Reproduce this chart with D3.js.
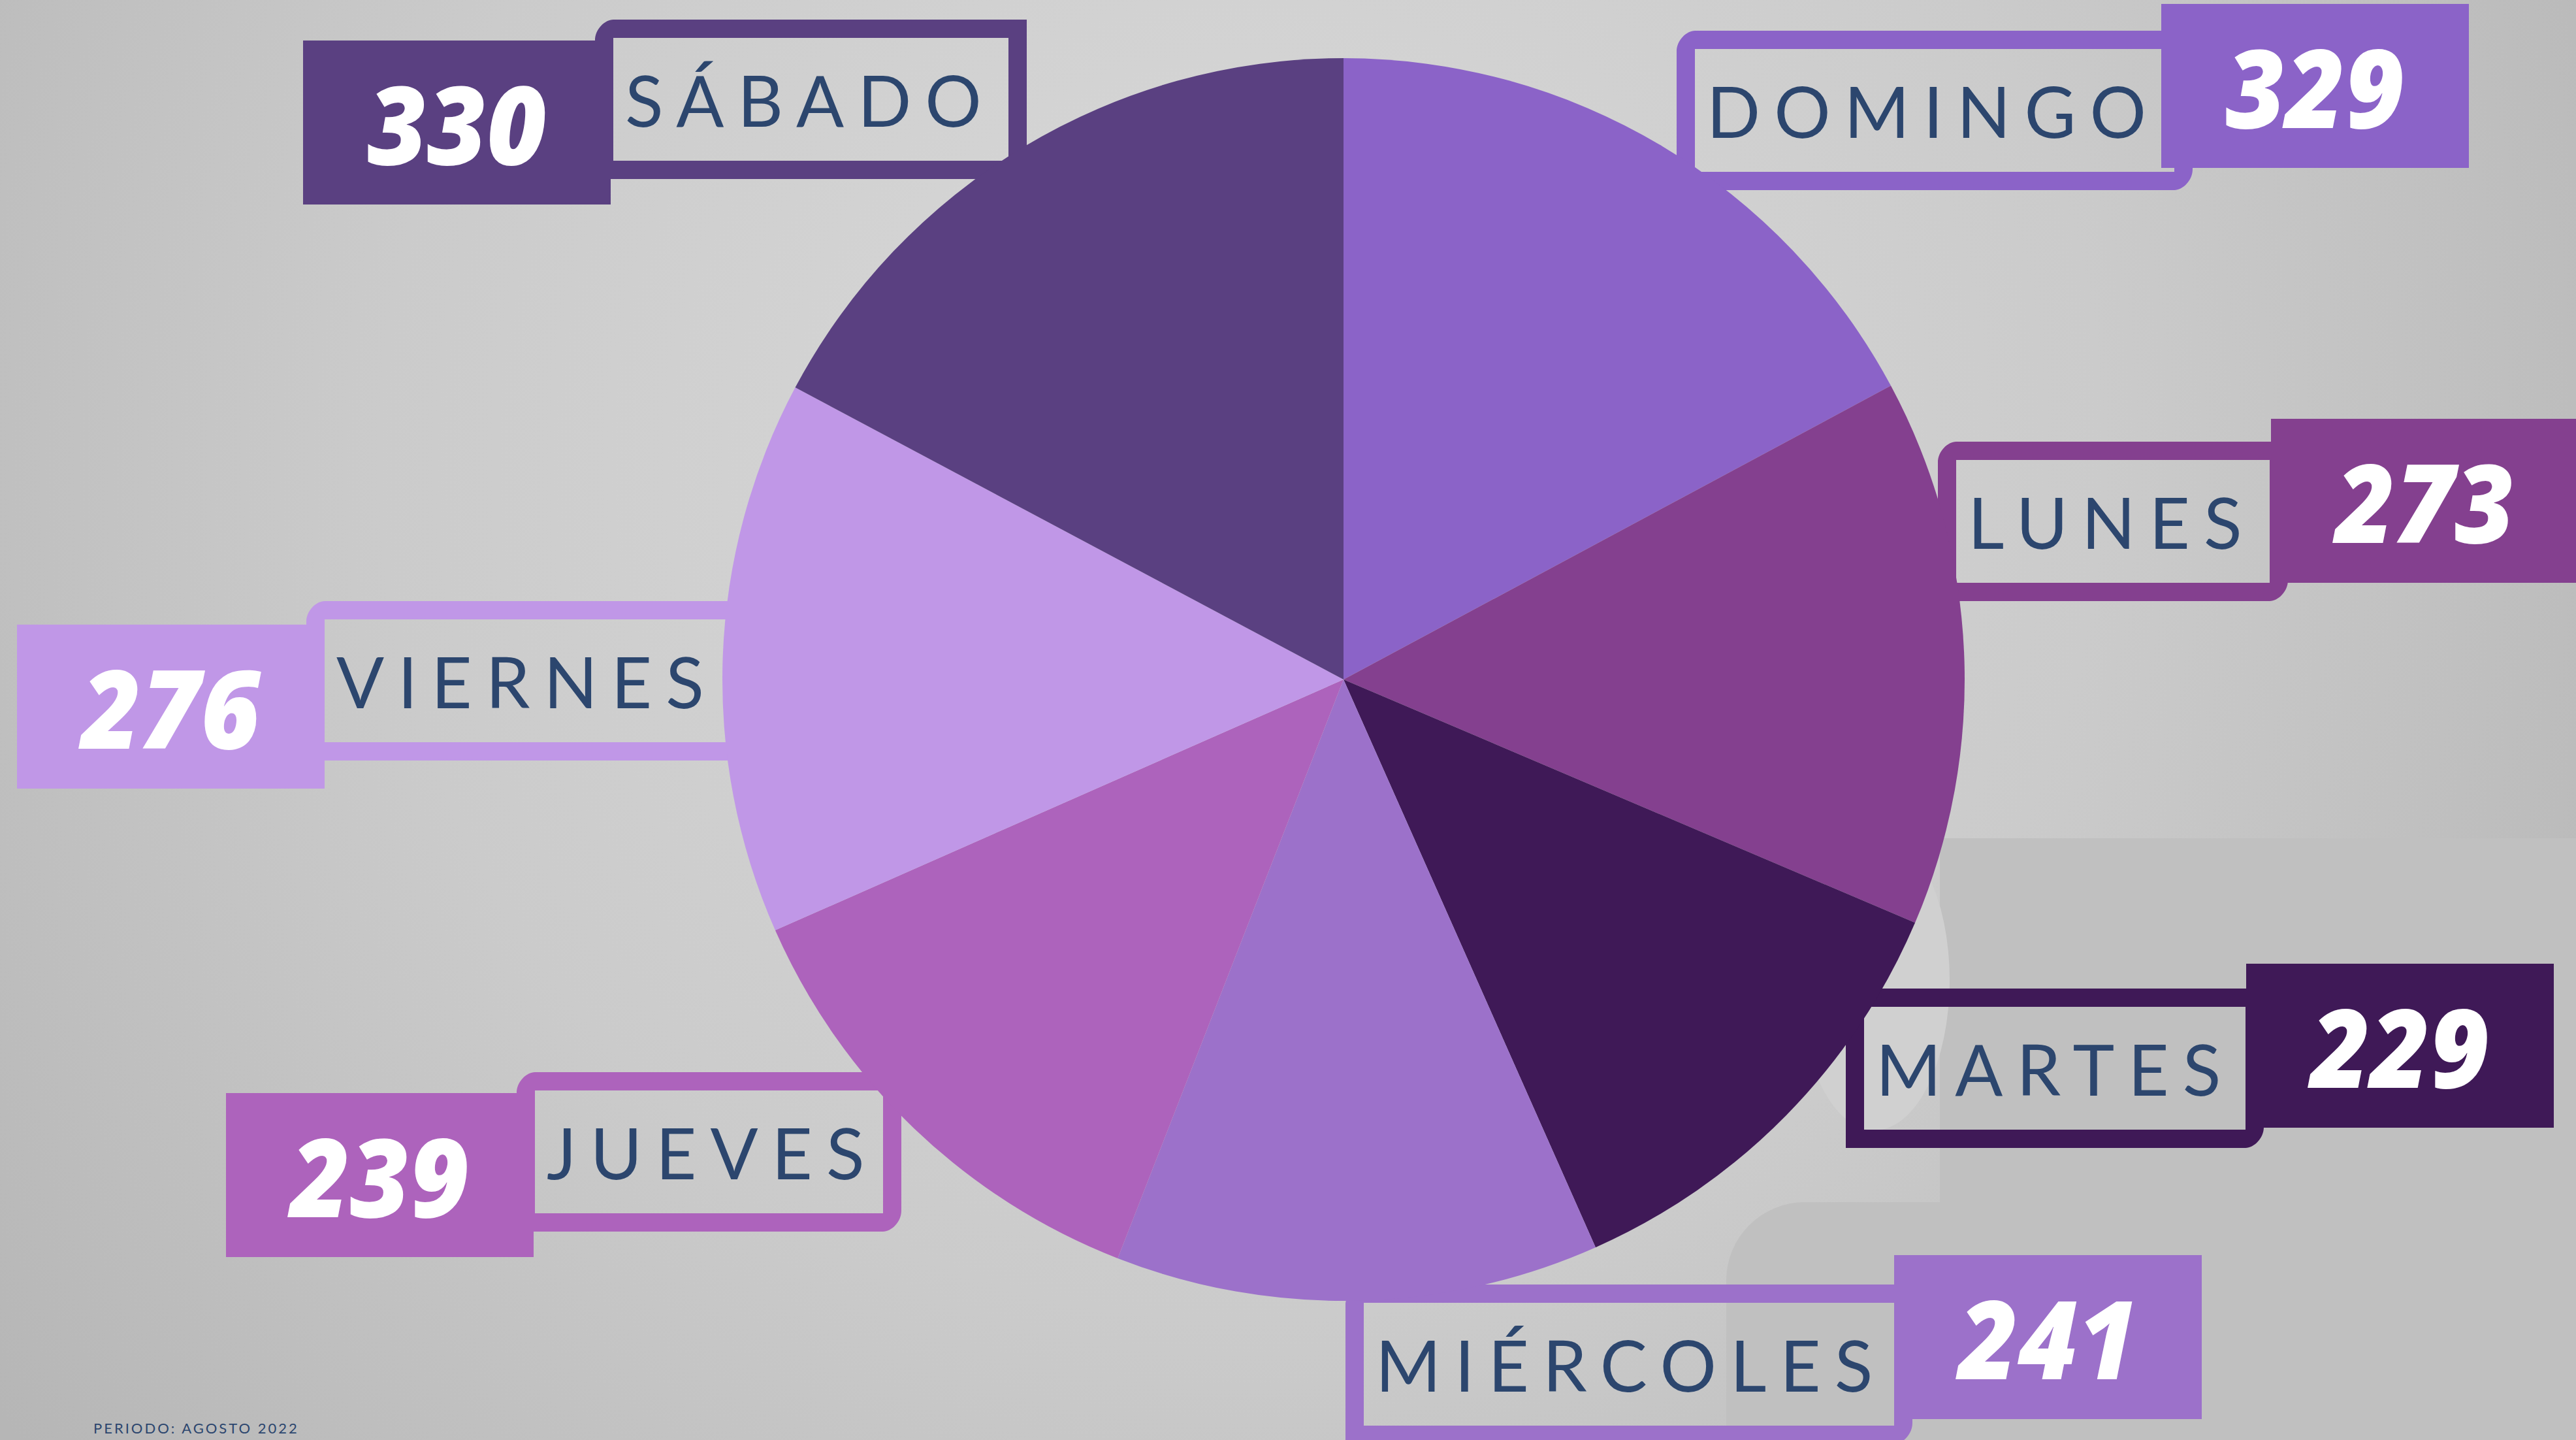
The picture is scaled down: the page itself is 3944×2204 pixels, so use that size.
<!DOCTYPE html>
<meta charset="utf-8">
<style>
body { margin: 0; background: #c8c8c8; }
.dia { font-family: "Lato", sans-serif; font-weight: 400; fill: #2c466e; }
.valor { font-family: "Open Sans", sans-serif; font-weight: 800; font-style: italic; fill: #fff; }
</style>
<body>
<script src="https://cdn.jsdelivr.net/npm/d3@7"></script>
<script>

// data
var dias = ["DOMINGO", "LUNES", "MARTES", "MIÉRCOLES", "JUEVES", "VIERNES", "SÁBADO"];
var valores = [329, 273, 229, 241, 239, 276, 330];
var colores = ["#8b63c8", "#84408f", "#3f1957", "#9c71ca", "#ad63bc", "#c097e7", "#5a4081"];
var periodo = "PERIODO: AGOSTO 2022";

// label layout (frame x, frame y, frame width, value box x, value box y)
var etiquetas = [
  {fx: 2567, fy: 47,   fw: 790, vx: 3309, vy: 6},
  {fx: 2967, fy: 676,  fw: 536, vx: 3477, vy: 641},
  {fx: 2826, fy: 1513, fw: 640, vx: 3439, vy: 1475},
  {fx: 2060, fy: 1966, fw: 868, vx: 2900, vy: 1921},
  {fx: 791,  fy: 1641, fw: 589, vx: 346,  vy: 1673},
  {fx: 469,  fy: 920,  fw: 680, vx: 26,   vy: 956},
  {fx: 911,  fy: 30,   fw: 661, vx: 464,  vy: 62}
];

var width = 3944, height = 2204;
var cx = 2057, cy = 1040, radius = 951;
var frameH = 244, border = 28, boxW = 471, boxH = 251;

var svg = d3.select("body").append("svg")
    .attr("width", width)
    .attr("height", height);

// background
var defs = svg.append("defs");
var grad = defs.append("radialGradient")
    .attr("id", "bg")
    .attr("gradientUnits", "userSpaceOnUse")
    .attr("cx", 1900).attr("cy", 700).attr("r", 2400);
grad.append("stop").attr("offset", "0%").attr("stop-color", "#dadada");
grad.append("stop").attr("offset", "55%").attr("stop-color", "#cbcbcb");
grad.append("stop").attr("offset", "100%").attr("stop-color", "#b6b6b6");

svg.append("rect").attr("width", width).attr("height", height).attr("fill", "url(#bg)");
svg.append("rect").attr("x", 2970).attr("y", 1283).attr("width", 1000).attr("height", 1000)
    .attr("fill", "#c0c0c0");
svg.append("rect").attr("x", 2643).attr("y", 1840).attr("width", 1400).attr("height", 500)
    .attr("rx", 120).attr("fill", "#c0c0c0");
svg.append("ellipse").attr("cx", 2870).attr("cy", 1500).attr("rx", 115).attr("ry", 230)
    .attr("fill", "#d0d0d0");

// label frames
function framePath(x, y, w, h, b) {
  var c = 32;
  var outer = "M" + x + "," + (y + c) +
    "C" + x + "," + (y + c * 0.45) + " " + (x + b * 0.55) + "," + y + " " + (x + b) + "," + y +
    "L" + (x + w) + "," + y +
    "L" + (x + w) + "," + (y + h - c) +
    "C" + (x + w) + "," + (y + h - c * 0.45) + " " + (x + w - b * 0.55) + "," + (y + h) + " " + (x + w - b) + "," + (y + h) +
    "L" + x + "," + (y + h) + "Z";
  var inner = "M" + (x + b) + "," + (y + b) +
    "L" + (x + w - b) + "," + (y + b) +
    "L" + (x + w - b) + "," + (y + h - b) +
    "L" + (x + b) + "," + (y + h - b) + "Z";
  return outer + inner;
}

svg.selectAll(".frame")
    .data(etiquetas)
    .enter().append("path")
    .attr("class", "frame")
    .attr("fill-rule", "evenodd")
    .attr("fill", function(d, i) { return colores[i]; })
    .attr("d", function(d) { return framePath(d.fx, d.fy, d.fw, frameH, border); });

// pie
var pie = d3.pie().sort(null).value(function(d) { return d; });
var arc = d3.arc().innerRadius(0).outerRadius(radius);

svg.append("g")
    .attr("transform", "translate(" + cx + "," + cy + ")")
    .selectAll("path")
    .data(pie(valores))
    .enter().append("path")
    .attr("fill", function(d, i) { return colores[i]; })
    .attr("d", arc);

// value boxes
svg.selectAll(".box")
    .data(etiquetas)
    .enter().append("rect")
    .attr("class", "box")
    .attr("x", function(d) { return d.vx; })
    .attr("y", function(d) { return d.vy; })
    .attr("width", boxW)
    .attr("height", boxH)
    .attr("fill", function(d, i) { return colores[i]; });

svg.selectAll(".valor")
    .data(etiquetas)
    .enter().append("text")
    .attr("class", "valor")
    .attr("x", function(d) { return d.vx + boxW / 2; })
    .attr("y", function(d) { return d.vy + 190; })
    .attr("text-anchor", "middle")
    .attr("font-size", 166)
    .attr("textLength", 274)
    .attr("lengthAdjust", "spacingAndGlyphs")
    .text(function(d, i) { return valores[i]; });

// day names
svg.selectAll(".dia")
    .data(etiquetas)
    .enter().append("text")
    .attr("class", "dia")
    .attr("x", function(d) { return d.fx + 46; })
    .attr("y", function(d) { return d.fy + 164; })
    .attr("font-size", 108)
    .attr("letter-spacing", 21)
    .text(function(d, i) { return dias[i]; });

// footer
svg.append("text")
    .attr("class", "dia")
    .attr("x", 143)
    .attr("y", 2194)
    .attr("font-size", 22)
    .attr("letter-spacing", 3)
    .text(periodo);

</script>
</body>
